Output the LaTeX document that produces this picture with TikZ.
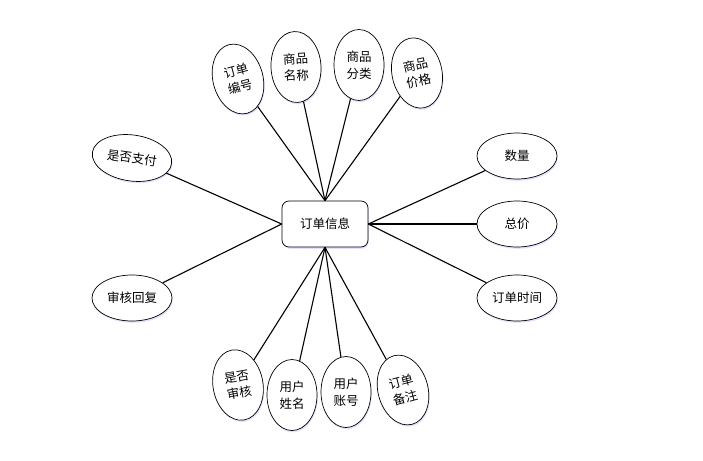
\documentclass[tikz,border=0pt]{standalone}
\usepackage{fontspec}
\newfontfamily\cjk{Noto Sans CJK SC}
\usetikzlibrary{shapes.geometric,shadows}

\tikzset{
  attr/.style={draw, ellipse, line width=0.7pt, fill=white, align=center, inner sep=0pt,
    drop shadow={shadow xshift=0.8pt, shadow yshift=-1.8pt, fill=blue!25, opacity=0.45}},
  attrtall/.style={attr, minimum width=50pt, minimum height=71pt},
  attrwide/.style={attr, minimum width=80pt, minimum height=46pt},
  entity/.style={draw, rounded corners=7pt, line width=0.7pt, fill=white, minimum width=86pt, minimum height=46pt,
    drop shadow={shadow xshift=0.8pt, shadow yshift=-1.8pt, fill=blue!25, opacity=0.45}},
  link/.style={line width=1.1pt}
}

\begin{document}
\begin{tikzpicture}[x=1pt, y=-1pt, font=\cjk\fontsize{12.5}{16.5}\selectfont]
		\useasboundingbox (0,0) rectangle (703,460);
		% center entity
		\node[entity] (order) at (325,224) {订单信息};
		
		% attributes above
		\node[attrtall, rotate=15] (ordno) at (238,79) {订单\\编号};
		\node[attrtall, rotate=3] (gname) at (296,67) {商品\\名称};
		\node[attrtall] (gtype) at (359,65) {商品\\分类};
		\node[attrtall, rotate=12] (gprice) at (417,73) {商品\\价格};
		
		% attributes left and right
		\node[attrwide, rotate=-8] (paid) at (132,158) {是否支付};
		\node[attrwide] (reply) at (132,298) {审核回复};
		\node[attrwide] (amount) at (517,156) {数量};
		\node[attrwide] (total) at (517,224) {总价};
		\node[attrwide] (otime) at (517,298) {订单时间};
		
		% attributes below
		\node[attrtall, rotate=10] (checked) at (238,385) {是否\\审核};
		\node[attrtall] (uname) at (292,395) {用户\\姓名};
		\node[attrtall] (uacct) at (346,392) {用户\\账号};
		\node[attrtall, rotate=15] (remark) at (403,390) {订单\\备注};
		
		\foreach \a in {ordno, gname, gtype, gprice}
			\draw[link] (\a) -- (order.north);
		\foreach \a in {checked, uname, uacct, remark}
			\draw[link] (\a) -- (order.south);
		\foreach \a in {paid, reply}
			\draw[link] (\a) -- (order.west);
		\foreach \a in {amount, total, otime}
			\draw[link] (\a) -- (order.east);
	\end{tikzpicture}
\end{document}
